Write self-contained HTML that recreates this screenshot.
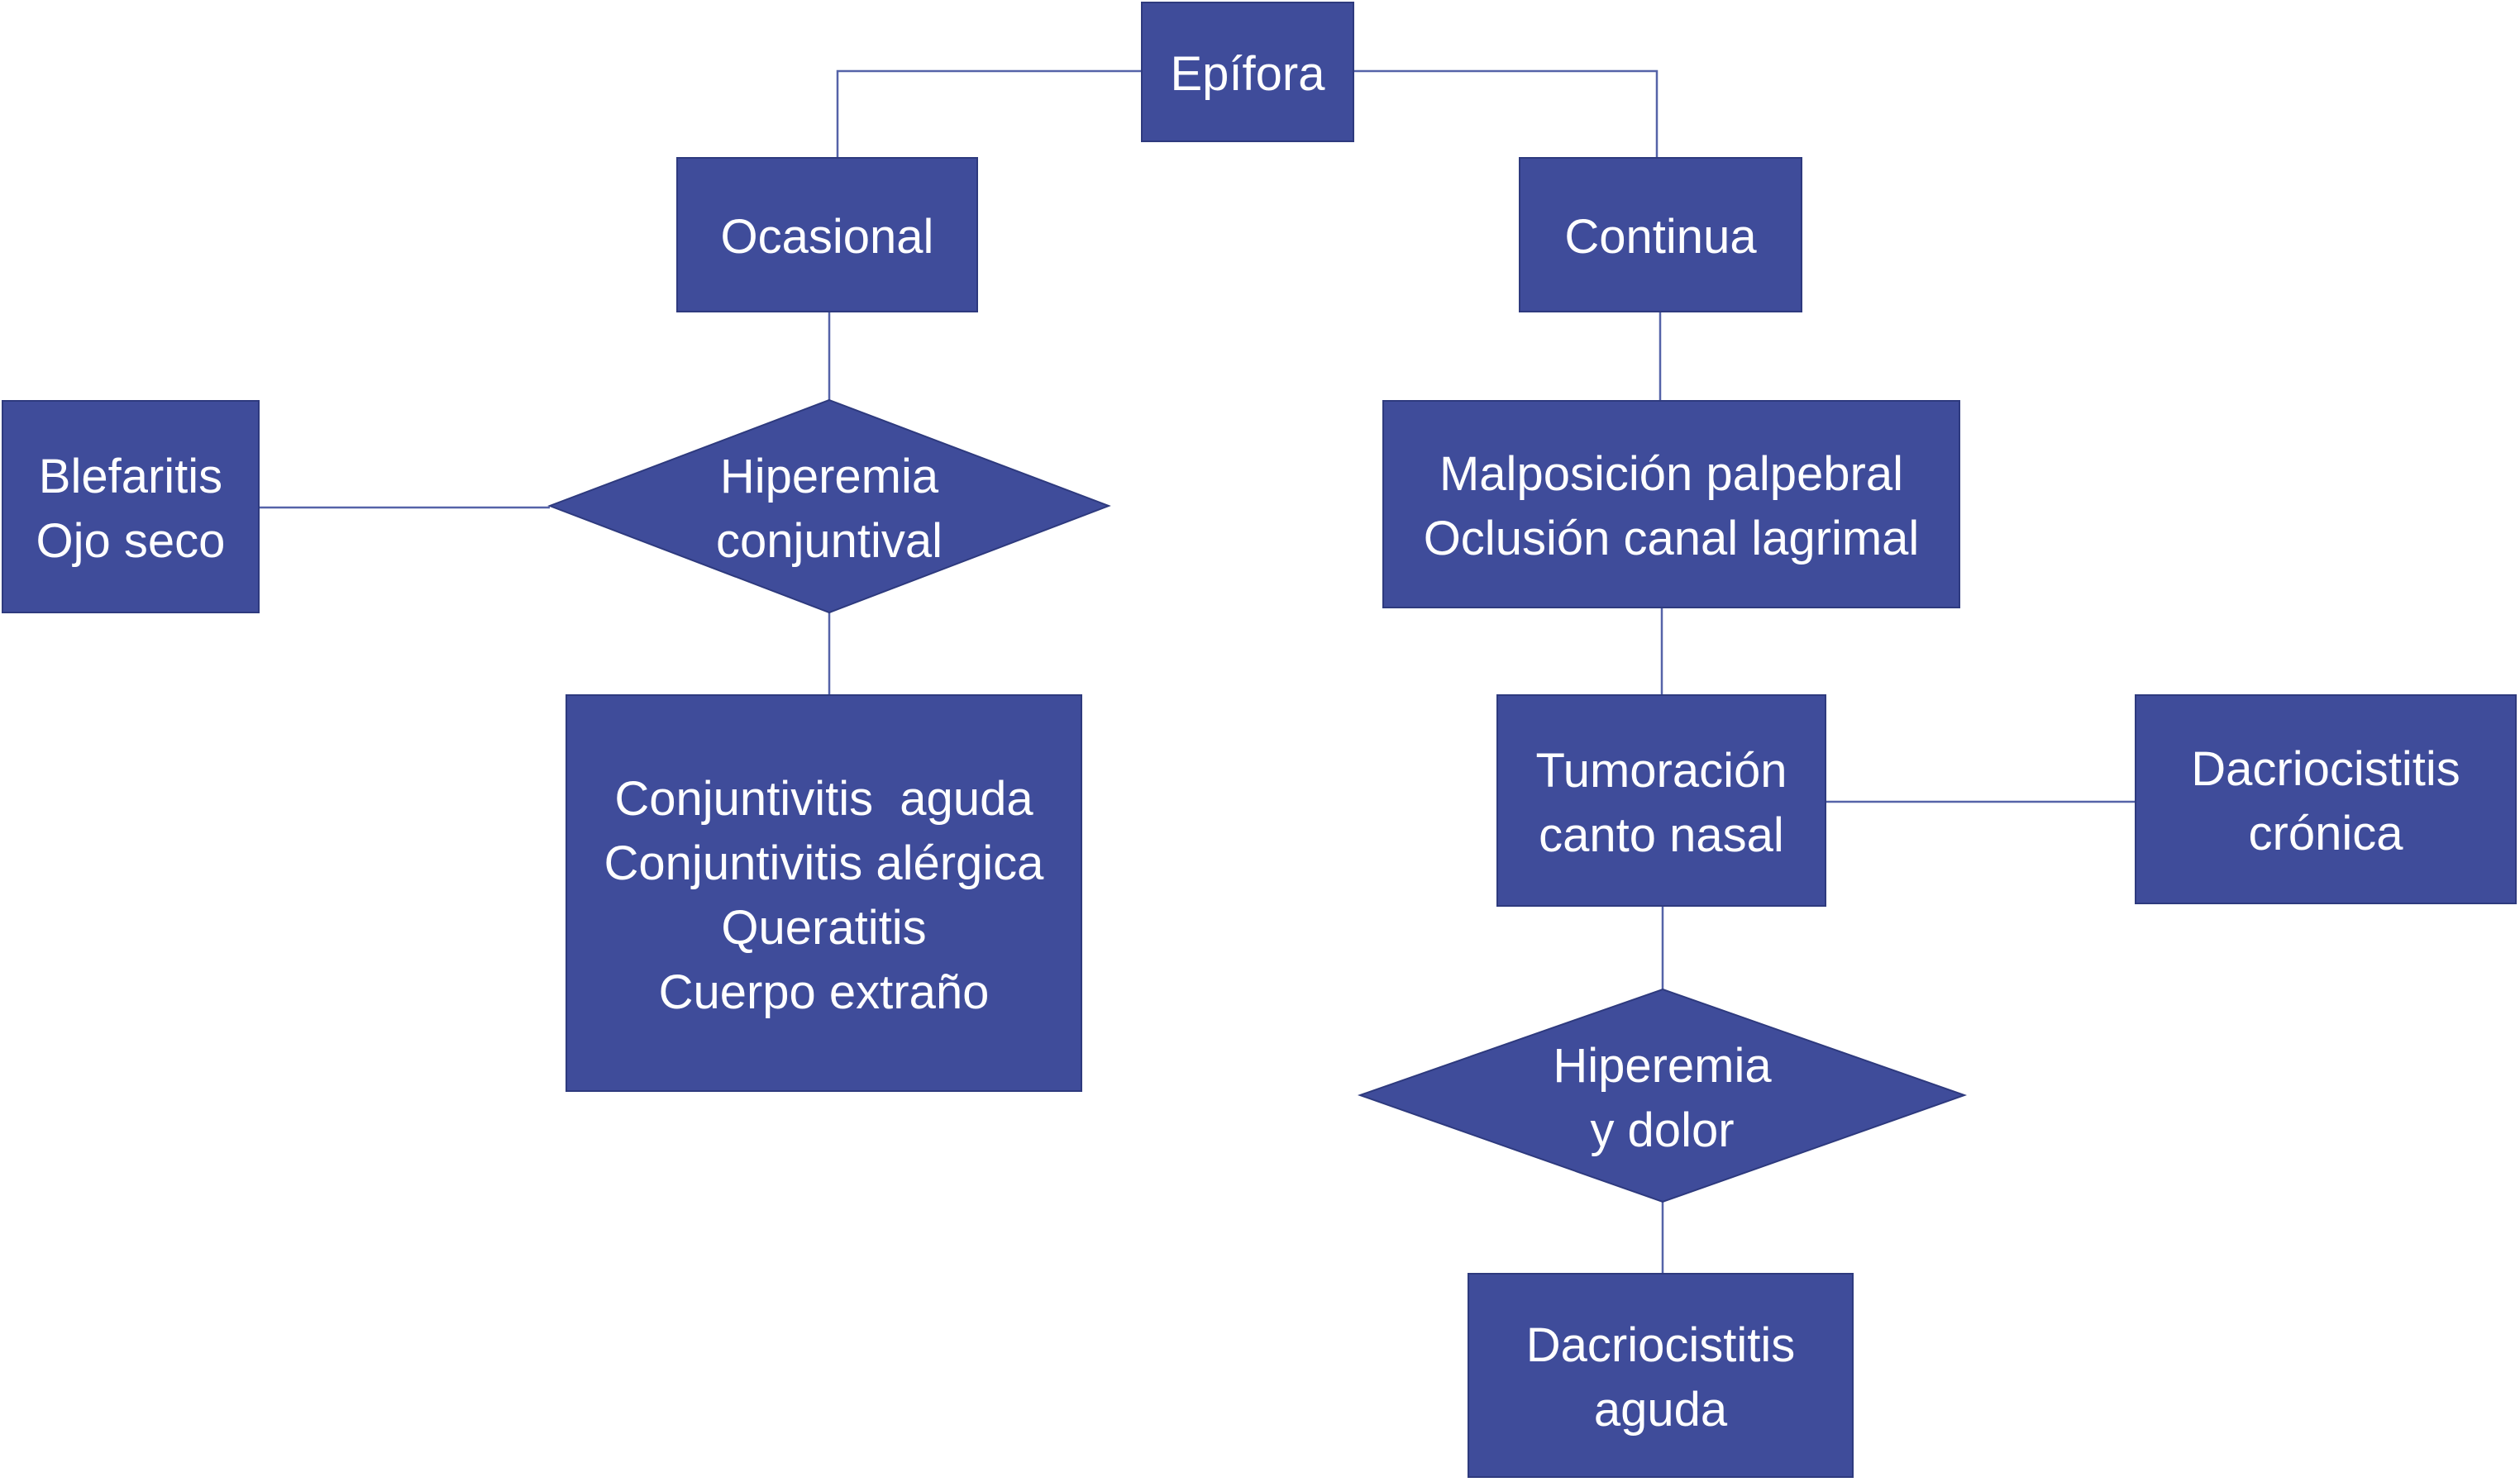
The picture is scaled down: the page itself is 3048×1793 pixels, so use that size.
<!DOCTYPE html>
<html><head><meta charset="utf-8"><style>
html,body{margin:0;padding:0;background:#fff;}
body{width:3048px;height:1793px;position:relative;overflow:hidden;font-family:"Liberation Sans",sans-serif;}
.b{position:absolute;background:#3f4c9a;border:2px solid #2e3a7e;box-sizing:border-box;color:#fff;font-size:58px;line-height:78px;display:flex;align-items:center;justify-content:center;text-align:center;padding-top:6px;}
.t{position:absolute;color:#fff;font-size:58px;line-height:78px;text-align:center;display:flex;align-items:center;justify-content:center;box-sizing:border-box;padding-top:6px;}
svg{position:absolute;left:0;top:0;}
</style></head><body>
<svg width="3048" height="1793">
<g stroke="#5563a8" stroke-width="2.5" fill="none">
<polyline points="1380,86 1013,86 1013,190"/>
<polyline points="1637,86 2004,86 2004,190"/>
<line x1="1003" y1="377" x2="1003" y2="484"/>
<line x1="313" y1="614" x2="665" y2="614"/>
<line x1="1003" y1="741" x2="1003" y2="840"/>
<line x1="2008" y1="377" x2="2008" y2="484"/>
<line x1="2010" y1="735" x2="2010" y2="840"/>
<line x1="2208" y1="970" x2="2582" y2="970"/>
<line x1="2011" y1="1096" x2="2011" y2="1197"/>
<line x1="2011" y1="1454" x2="2011" y2="1540"/>
</g>
<polygon points="1003,484 1341,612 1003,741 665,612" fill="#3f4c9a" stroke="#2e3a7e" stroke-width="2"/>
<polygon points="2011,1197 2376,1325 2011,1454 1645,1325" fill="#3f4c9a" stroke="#2e3a7e" stroke-width="2"/>
</svg>
<div class="b" style="left:1380px;top:2px;width:258px;height:170px;">Epífora</div>
<div class="b" style="left:818px;top:190px;width:365px;height:188px;">Ocasional</div>
<div class="b" style="left:1837px;top:190px;width:343px;height:188px;">Continua</div>
<div class="b" style="left:2px;top:484px;width:312px;height:258px;">Blefaritis<br>Ojo seco</div>
<div class="t" style="left:665px;top:484px;width:676px;height:257px;">Hiperemia<br>conjuntival</div>
<div class="b" style="left:1672px;top:484px;width:699px;height:252px;">Malposición palpebral<br>Oclusión canal lagrimal</div>
<div class="b" style="left:684px;top:840px;width:625px;height:481px;">Conjuntivitis&nbsp; aguda<br>Conjuntivitis alérgica<br>Queratitis<br>Cuerpo extraño</div>
<div class="b" style="left:1810px;top:840px;width:399px;height:257px;">Tumoración<br>canto nasal</div>
<div class="b" style="left:2582px;top:840px;width:462px;height:254px;">Dacriocistitis<br>crónica</div>
<div class="t" style="left:1645px;top:1197px;width:731px;height:257px;">Hiperemia<br>y dolor</div>
<div class="b" style="left:1775px;top:1540px;width:467px;height:248px;">Dacriocistitis<br>aguda</div>
</body></html>
